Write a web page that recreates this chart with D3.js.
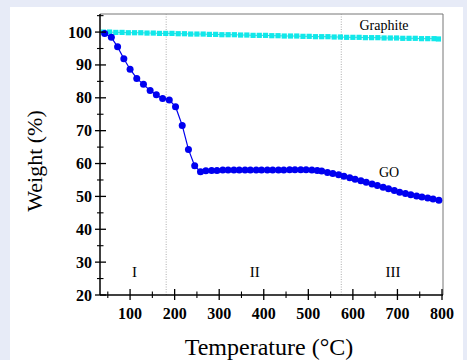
<!DOCTYPE html>
<html>
<head>
<meta charset="utf-8">
<script src="https://cdn.jsdelivr.net/npm/d3@7/dist/d3.min.js"></script>
<style>
  html, body { margin: 0; padding: 0; background: #e7ebf7; }
  svg { display: block; }
</style>
</head>
<body>
<svg id="chart" width="467" height="360"></svg>
<script>
// Thermogravimetric curves: temperature (°C) vs. remaining weight (%)
const goTemp = [43, 58, 72, 86, 100, 115, 130, 145, 159, 173, 188, 202, 217, 231, 245, 258,
  270, 283, 295, 308, 320, 333, 345, 358, 370, 383, 395, 408, 420, 433, 445, 458, 470, 483, 495, 508, 520,
  530, 543, 555, 568, 580, 593, 605, 618, 630, 643, 655, 668, 680, 693, 705, 718, 730, 743, 755, 768, 780, 793];
const goWeight = [99.6, 98.4, 95.5, 91.9, 88.7, 85.9, 84.1, 82.2, 80.9, 79.8, 79.3, 77.3, 71.6, 64.3, 59.3, 57.5,
  57.8, 57.9, 57.9, 58.0, 58.0, 58.0, 58.0, 58.0, 58.0, 58.0, 58.0, 58.0, 58.0, 58.0, 58.0, 58.1, 58.1, 58.1, 58.1, 58.0, 57.9,
  57.7, 57.3, 57.0, 56.6, 56.1, 55.7, 55.2, 54.8, 54.3, 53.8, 53.3, 52.8, 52.3, 51.8, 51.3, 50.9, 50.5, 50.1, 49.8, 49.5, 49.2, 48.8];

const grTemp = [40, 54, 68, 82, 96, 110, 124, 138, 152, 166, 180, 194, 208, 222, 236, 250, 264, 278,
  292, 306, 320, 334, 348, 362, 376, 390, 404, 418, 432, 446, 460, 474, 488, 502, 516, 530,
  544, 558, 572, 586, 600, 614, 628, 642, 656, 670, 684, 698, 712, 726, 740, 754, 768, 782, 792];
const grWeight = [100.0, 100.0, 99.9, 99.9, 99.8, 99.8, 99.8, 99.7, 99.7, 99.6, 99.6, 99.6, 99.5, 99.5, 99.4, 99.4, 99.4, 99.3,
  99.3, 99.2, 99.2, 99.2, 99.1, 99.1, 99.0, 99.0, 99.0, 98.9, 98.9, 98.8, 98.8, 98.8, 98.7, 98.7, 98.6, 98.6,
  98.6, 98.5, 98.5, 98.4, 98.4, 98.4, 98.3, 98.3, 98.3, 98.2, 98.2, 98.2, 98.1, 98.1, 98.1, 98.0, 98.0, 98.0, 97.9];

const xTicks = [100, 200, 300, 400, 500, 600, 700, 800];
const xMinor = [50, 150, 250, 350, 450, 550, 650, 750];
const yTicks = [20, 30, 40, 50, 60, 70, 80, 90, 100];
const yMinor = [25, 35, 45, 55, 65, 75, 85, 95, 105];
const stageBounds = [181, 574];
const stageLabels = [{ t: 110, text: "I" }, { t: 380, text: "II" }, { t: 690, text: "III" }];

const svg = d3.select("#chart");
const serif = "'Liberation Serif', 'Times New Roman', serif";

// white panel
svg.append("rect").attr("x", 10).attr("y", 7).attr("width", 453).attr("height", 360)
  .attr("fill", "#ffffff");

const L = 100, R = 443, T = 14, B = 295;
const x = d3.scaleLinear().domain([32.5, 800]).range([L, 442]);
const y = d3.scaleLinear().domain([20, 105.5]).range([B, T]);

// frame (top, right)
svg.append("path").attr("d", `M${L},${T}H${R}V${B}`)
  .attr("fill", "none").attr("stroke", "#777").attr("stroke-width", 1);

// stage separators
svg.selectAll(".sep").data(stageBounds).join("line")
  .attr("x1", d => x(d)).attr("x2", d => x(d)).attr("y1", T).attr("y2", B)
  .attr("stroke", "#999").attr("stroke-width", 0.8).attr("stroke-dasharray", "1,1.5");

// graphite
const grData = grTemp.map((t, i) => [t, grWeight[i]]);
svg.append("path").datum(grData)
  .attr("d", d3.line().x(d => x(d[0])).y(d => y(d[1])))
  .attr("fill", "none").attr("stroke", "#20b8c8").attr("stroke-width", 0.8);
svg.selectAll(".gr").data(grData).join("rect")
  .attr("x", d => x(d[0]) - 2.6).attr("y", d => y(d[1]) - 2.6)
  .attr("width", 5.2).attr("height", 5.2).attr("fill", "#11e8ea");

// GO
const goData = goTemp.map((t, i) => [t, goWeight[i]]);
svg.append("path").datum(goData)
  .attr("d", d3.line().x(d => x(d[0])).y(d => y(d[1])))
  .attr("fill", "none").attr("stroke", "#0000ee").attr("stroke-width", 1.2);
svg.selectAll(".go").data(goData).join("circle")
  .attr("cx", d => x(d[0])).attr("cy", d => y(d[1])).attr("r", 3.5)
  .attr("fill", "#0000f0");

// axes
const xAxis = svg.append("g").attr("transform", `translate(0,${B})`);
xAxis.append("line").attr("x1", L).attr("x2", R).attr("stroke", "#000").attr("stroke-width", 1.5);
xAxis.selectAll(".xt").data(xTicks).join("line")
  .attr("x1", d => x(d)).attr("x2", d => x(d)).attr("y1", -6).attr("y2", 5)
  .attr("stroke", "#000").attr("stroke-width", 1.3);
xAxis.selectAll(".xm").data(xMinor).join("line")
  .attr("x1", d => x(d)).attr("x2", d => x(d)).attr("y1", -3.5).attr("y2", 3)
  .attr("stroke", "#000").attr("stroke-width", 1.1);
xAxis.selectAll(".xl").data(xTicks).join("text")
  .attr("x", d => x(d)).attr("y", 24).attr("text-anchor", "middle")
  .attr("font-family", serif).attr("font-weight", "bold").attr("font-size", 16)
  .text(d => d);

const yAxis = svg.append("g").attr("transform", `translate(${L},0)`);
yAxis.append("line").attr("y1", T).attr("y2", B).attr("stroke", "#000").attr("stroke-width", 1.5);
yAxis.selectAll(".yt").data(yTicks).join("line")
  .attr("y1", d => y(d)).attr("y2", d => y(d)).attr("x1", -5).attr("x2", 6)
  .attr("stroke", "#000").attr("stroke-width", 1.3);
yAxis.selectAll(".ym").data(yMinor).join("line")
  .attr("y1", d => y(d)).attr("y2", d => y(d)).attr("x1", -3).attr("x2", 3.5)
  .attr("stroke", "#000").attr("stroke-width", 1.1);
yAxis.selectAll(".yl").data(yTicks).join("text")
  .attr("x", -8).attr("y", d => y(d) + 5.5).attr("text-anchor", "end")
  .attr("font-family", serif).attr("font-weight", "bold").attr("font-size", 16)
  .text(d => d);

// axis titles
svg.append("text").attr("x", 269).attr("y", 355).attr("text-anchor", "middle")
  .attr("font-family", serif).attr("font-size", 24).text("Temperature (°C)");
svg.append("text").attr("transform", "translate(42,161) rotate(-90)").attr("text-anchor", "middle")
  .attr("font-family", serif).attr("font-size", 22).text("Weight (%)");

// series labels
svg.append("text").attr("x", 384).attr("y", 30).attr("text-anchor", "middle")
  .attr("font-family", serif).attr("font-size", 14).text("Graphite");
svg.append("text").attr("x", 389).attr("y", 177).attr("text-anchor", "middle")
  .attr("font-family", serif).attr("font-size", 14).text("GO");

// stage labels
svg.selectAll(".stage").data(stageLabels).join("text")
  .attr("x", d => x(d.t)).attr("y", 277).attr("text-anchor", "middle")
  .attr("font-family", serif).attr("font-size", 15).text(d => d.text);
</script>
</body>
</html>
